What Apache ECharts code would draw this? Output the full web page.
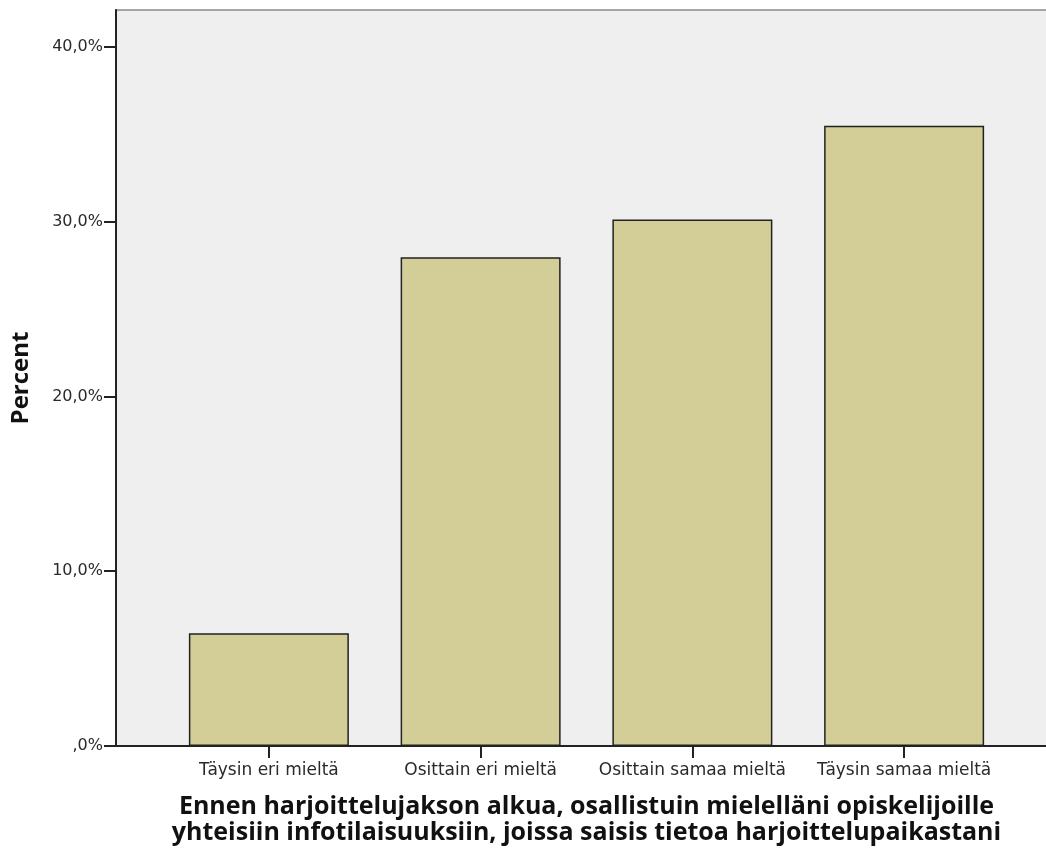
<!DOCTYPE html>
<html>
<head>
<meta charset="utf-8">
<script src="https://cdn.jsdelivr.net/npm/echarts@6/dist/echarts.min.js"></script>
<style>
html,body{margin:0;padding:0;background:#fff;}
#c{width:1046px;height:849px;}
</style>
</head>
<body>
<div id="c"></div>
<script>
const categories = ['Täysin eri mieltä', 'Osittain eri mieltä', 'Osittain samaa mieltä', 'Täysin samaa mieltä'];
const percentValues = [6.45, 27.96, 30.11, 35.48];
const yTickValues = [0, 10, 20, 30, 40];
const xTitle = 'Ennen harjoittelujakson alkua, osallistuin mielelläni opiskelijoille\nyhteisiin infotilaisuuksiin, joissa saisis tietoa harjoittelupaikastani';
const yTitle = 'Percent';

const yMax = 42.1;
const font = 'DejaVu Sans';

function fmtPct(v) {
  if (v === 0) return ',0%';
  return v.toFixed(1).replace('.', ',') + '%';
}

const chart = echarts.init(document.getElementById('c'), null, {renderer: 'canvas'});
chart.setOption({
  animation: false,
  backgroundColor: '#ffffff',
  grid: [
    {left: 116, right: -3, top: 10, bottom: 103, outerBoundsMode: 'none', containLabel: false,
     show: true, backgroundColor: '#efefef', borderColor: '#8a8a8a', borderWidth: 1.5},
    {left: 163, right: 36, top: 10, bottom: 103, outerBoundsMode: 'none', containLabel: false}
  ],
  xAxis: [
    {
      gridIndex: 0, type: 'value', min: 0, max: 1,
      axisLine: {show: true, lineStyle: {color: '#222', width: 2}},
      axisTick: {show: false}, axisLabel: {show: false}, splitLine: {show: false}
    },
    {
      gridIndex: 1, type: 'category', data: categories,
      axisLine: {show: false},
      axisTick: {show: true, alignWithLabel: true, interval: 0, length: 12, lineStyle: {color: '#222', width: 2}},
      axisLabel: {color: '#2a2a2a', fontFamily: font, fontSize: 17, margin: 16, interval: 0, hideOverlap: false},
      name: xTitle, nameLocation: 'middle', nameGap: 48,
      nameTextStyle: {color: '#111', fontFamily: 'Open Sans', fontWeight: 'bold', fontSize: 25, lineHeight: 26}
    }
  ],
  yAxis: [
    {
      gridIndex: 0, type: 'value', min: 0, max: yMax, interval: 10,
      axisLine: {show: true, lineStyle: {color: '#222', width: 2}},
      axisTick: {show: true, length: 12, lineStyle: {color: '#222', width: 2},
        customValues: yTickValues},
      axisLabel: {color: '#2a2a2a', fontFamily: font, fontSize: 16, margin: 13, formatter: fmtPct,
        customValues: yTickValues},
      splitLine: {show: false},
      name: yTitle, nameLocation: 'middle', nameGap: 83, nameRotate: 90,
      nameTextStyle: {color: '#111', fontFamily: 'Open Sans', fontWeight: 'bold', fontSize: 24}
    },
    {
      gridIndex: 1, type: 'value', min: 0, max: yMax, show: false
    }
  ],
  series: [{
    type: 'bar', xAxisIndex: 1, yAxisIndex: 1,
    data: percentValues, barWidth: 160,
    itemStyle: {color: '#d3ce97', borderColor: '#222', borderWidth: 1.5}
  }]
});
</script>
</body>
</html>
